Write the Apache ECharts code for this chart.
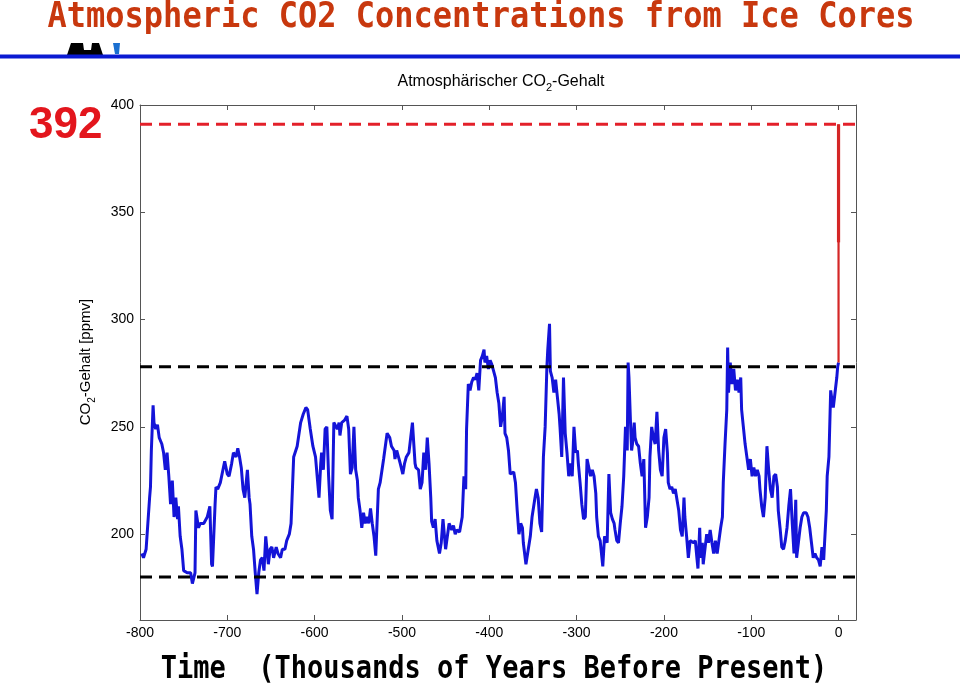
<!DOCTYPE html>
<html>
<head>
<meta charset="utf-8">
<script src="https://cdn.jsdelivr.net/npm/echarts@6/dist/echarts.min.js"></script>
<style>
html,body{margin:0;padding:0;background:#fff;}
#chart{width:960px;height:687px;}
</style>
</head>
<body>
<div id="chart"></div>
<script>
// ---- data (thousands of years before present, ppmv) ----
const ages = [
-798,-796,-793,-791,-789,-788,-787,-785,-784,-782,-780,-778,-777,-775,-773,-771,-769,-767,-765,-763,
-761,-759,-757,-756,-754,-752,-750,-746,-742,-740,-737,-736,-733,-731,-727,-723,-720,-718,-717,-714,
-713,-711,-708,-705,-703,-700,-698,-695,-693,-690,-688,-686,-684,-682,-680,-677,-675,-674,-672,-670,
-668,-666,-664,-662,-660,-658,-656,-653,-651,-649,-647,-644,-642,-639,-637,-634,-632,-629,-627,-624,
-620,-616,-613,-610,-608,-605,-602,-599,
-595,-593,-592,-590,-588,-586,-584,-582,-580,-578,-576,-574,-572,-571,-569,-566,-563,-561,-559,-557,
-555,-553,-551,-550,-548,-546,-544,-542,-540,-538,-536,-534,-532,-530,-527,-525,-521,-517,-514,-512,
-509,-508,-506,-504,-502,-499,-497,-495,-492,-490,-488,-485,-484,-481,-479,-477,-475,-473,-471,-469,
-467,-466,-464,-462,-460,-457,-455,-453,-450,-448,-446,-443,-441,-439,-437,-434,-431,-429,-427,-426,
-424,-422,-420,-418,-416,-414,-412,-410,-408,-406,-405,-403,-401,-399,-397,-395,-393,
-391,-389,-387,-385,-383,-382,-380,-378,-376,-374,-372,-370,-368,-366,-364,-362,-361,-358,-356,-353,
-351,-348,-346,-344,-342,-340,-338,-336,-334,-333,-331,-330,-328,-326,-324,-322,-320,-319,-317,-315,
-313,-311,-309,-307,-305,-303,-301,-299,-298,-296,-294,-292,-290,-288,-286,-284,-282,-280,-278,-277,
-275,-273,-272,-270,-268,-265,-263,-261,-259,-257,-256,-254,-252,-250,-248,-246,-244,-242,-241,-240,
-238,-237,-236,-234,-233,-231,-229,-227,-225,-223,-221,-219,-217,-216,-214,-212,-210,-208,-206,-204,
-202,-200,-198,-196,-195,-193,-191,-189,-187,
-185,-183,-181,-179,-177,-176,-174,-172,-170,-168,-166,-164,-162,-161,-159,-158,-156,-155,-153,-151,
-149,-147,-145,-143,-141,-139,-137,-135,-133,-132,-130,-128,-127,-126,-124,-122,-120,-118,-116,-114,
-112,-111,-109,-107,-105,-103,-101,-99,-97,-95,-93,-91,-90,-88,-86,-84,-82,-80,-78,-76,
-74,-72,-70,-69,-67,-65,-63,-61,-59,-57,-55,-53,-51,-49,-48,-46,-44,-42,-40,-37,
-35,-33,-31,-29,-27,-25,-23,-21,-19,-17,-16,-14,-13,-11,-9,-8,-6,-4,-2,-1,0
];
const co2 = [
191,189,193,205,217,222,239,260,252,249,251,245,244,242,238,230,238,227,214,225,
208,217,207,213,199,193,183,182,182,177,182,211,203,205,205,208,213,186,185,214,
222,221,224,230,234,228,227,233,238,236,240,236,231,221,217,230,217,214,199,193,
182,172,182,188,189,183,199,186,193,194,189,194,191,189,193,193,197,200,205,236,
241,252,256,259,258,249,241,236,
217,233,238,230,249,250,227,211,207,252,252,249,252,246,252,253,255,249,228,231,
250,230,225,217,211,203,210,205,208,205,212,205,199,190,221,224,235,247,245,241,
239,235,239,236,233,228,233,236,238,245,252,233,231,230,221,224,238,230,245,233,
217,206,203,207,197,191,196,207,193,199,205,202,204,200,202,201,208,227,221,249,
270,267,271,273,272,275,267,281,283,286,280,283,277,281,279,276,273,
266,261,250,255,264,247,245,239,228,228,229,224,211,200,205,203,196,186,186,199,
208,216,221,217,205,201,236,250,278,286,298,276,273,266,272,264,256,250,236,273,
247,238,227,233,227,250,238,239,233,224,214,207,208,235,231,227,230,227,219,208,
199,197,193,185,199,196,228,210,207,205,202,197,196,205,213,227,250,239,280,273,
249,239,242,252,245,242,241,233,227,235,203,208,217,236,250,245,242,257,239,230,
227,245,249,238,224,221,222,219,221,
221,211,202,199,217,208,199,189,197,197,196,197,188,184,203,189,196,186,193,200,
196,202,196,191,197,191,191,203,208,224,242,258,287,266,280,270,277,267,272,266,
273,258,250,242,236,230,235,227,231,227,230,227,221,213,208,217,241,230,221,217,
227,228,222,211,203,194,193,197,203,213,221,205,191,216,189,196,203,208,210,210,
208,203,196,189,191,189,188,185,194,188,196,211,227,236,267,264,259,266,273,278,280
];
const preIndustrialLevel = 278;
const glacialLevel = 180;
const currentLevel = 391;
const currentLabel = '392';
const recentRiseStart = 280;
const recentRiseThick = 336;
const xTicks = [-800,-700,-600,-500,-400,-300,-200,-100,0];
const yTicks = [200,250,300,350,400];
const xMin = -800, xMax = 20, yMin = 160, yMax = 400;

const chart = echarts.init(document.getElementById('chart'), null, {renderer:'canvas'});
const lineData = ages.map((a,i)=>[a, co2[i]]);
const axisColor = '#555';
const labelFont = 'Liberation Sans';

function xAx(pos, showLabel){
  return {type:'value', min:xMin, max:xMax, position:pos,
    axisLine:{show:true, onZero:false, lineStyle:{color:axisColor, width:1}},
    axisTick:{show:true, inside:true, length:5, customValues:xTicks, lineStyle:{color:axisColor}},
    axisLabel:showLabel ? {customValues:xTicks, color:'#000', fontSize:14, fontFamily:labelFont, margin:6} : {show:false},
    splitLine:{show:false}};
}
function yAx(pos, showLabel){
  return {type:'value', min:yMin, max:yMax, position:pos,
    axisLine:{show:true, onZero:false, lineStyle:{color:axisColor, width:1}},
    axisTick:{show:true, inside:true, length:5, customValues:yTicks, lineStyle:{color:axisColor}},
    axisLabel:showLabel ? {customValues:yTicks, color:'#000', fontSize:14, fontFamily:labelFont, margin:6} : {show:false},
    splitLine:{show:false}};
}
const subRich = {
  a:{fontSize:16, fontFamily:labelFont, fill:'#000', lineHeight:19, verticalAlign:'top'},
  s:{fontSize:11, fontFamily:labelFont, fill:'#000', lineHeight:19, verticalAlign:'top', padding:[9,0,0,0]}
};

const option = {
  animation: false,
  backgroundColor: '#fff',
  grid: {left:140, right:104, top:105, bottom:67, containLabel:false},
  xAxis: [xAx('bottom', true), xAx('top', false)],
  yAxis: [yAx('left', true), yAx('right', false)],
  series: [
    {type:'line', data:lineData, showSymbol:false, symbol:'none', clip:true,
     lineStyle:{color:'#1414d8', width:3}, z:2},
    {type:'line', data:[[xMin,preIndustrialLevel],[xMax,preIndustrialLevel]], symbol:'none', clip:false,
     lineStyle:{color:'#000', width:3, type:[12,7]}, z:3},
    {type:'line', data:[[xMin,glacialLevel],[xMax,glacialLevel]], symbol:'none', clip:false,
     lineStyle:{color:'#000', width:3, type:[12,7]}, z:3},
    {type:'line', data:[[xMin,currentLevel],[xMax,currentLevel]], symbol:'none', clip:false,
     lineStyle:{color:'#e3202a', width:3, type:[12,7]}, z:3},
    {type:'line', data:[[0,recentRiseStart],[0,currentLevel]], symbol:'none', clip:false,
     lineStyle:{color:'#d42626', width:2.2}, z:4},
    {type:'line', data:[[0,recentRiseThick],[0,currentLevel]], symbol:'none', clip:false,
     lineStyle:{color:'#d42626', width:3.2}, z:4}
  ],
  graphic: [
    {type:'text', x:481, y:18, scaleY:1.12, z:10,
     style:{text:'Atmospheric CO2 Concentrations from Ice Cores', font:'bold 32px "DejaVu Sans Mono"',
            fill:'#c8380e', textAlign:'center', textVerticalAlign:'middle'}},
    {type:'rect', shape:{x:0, y:54.5, width:960, height:4}, style:{fill:'#0a1ad2'}, z:10},
    {type:'polygon', shape:{points:[[67,55],[71,43],[99,43],[103,55]]}, style:{fill:'#000'}, z:9},
    {type:'polygon', shape:{points:[[83,43],[92,43],[91,50],[84,50]]}, style:{fill:'#fff'}, z:9},
    {type:'polygon', shape:{points:[[113,43],[120,43],[119,54],[115,54]]}, style:{fill:'#1a6fd0'}, z:9},
    {type:'text', x:29, y:126, z:10,
     style:{text:currentLabel, font:'bold 44px "Liberation Sans"', fill:'#e3161d',
            textAlign:'left', textVerticalAlign:'middle'}},
    {type:'text', x:501, y:83, z:10,
     style:{text:'{a|Atmosphärischer CO}{s|2}{a|-Gehalt}', textAlign:'center', textVerticalAlign:'middle', rich:subRich}},
    {type:'text', x:87, y:362, rotation:Math.PI/2, z:10,
     style:{text:'{a|CO}{s|2}{a|-Gehalt [ppmv]}', textAlign:'center', textVerticalAlign:'middle',
            rich:{a:{fontSize:15, fontFamily:labelFont, fill:'#000', lineHeight:18, verticalAlign:'top'},
                  s:{fontSize:10, fontFamily:labelFont, fill:'#000', lineHeight:18, verticalAlign:'top', padding:[9,0,0,0]}}}},
    {type:'text', x:494, y:670, scaleY:1.2, z:10,
     style:{text:'Time  (Thousands of Years Before Present)', font:'bold 27px "DejaVu Sans Mono"',
            fill:'#000', textAlign:'center', textVerticalAlign:'middle'}}
  ]
};
chart.setOption(option);
</script>
</body>
</html>
